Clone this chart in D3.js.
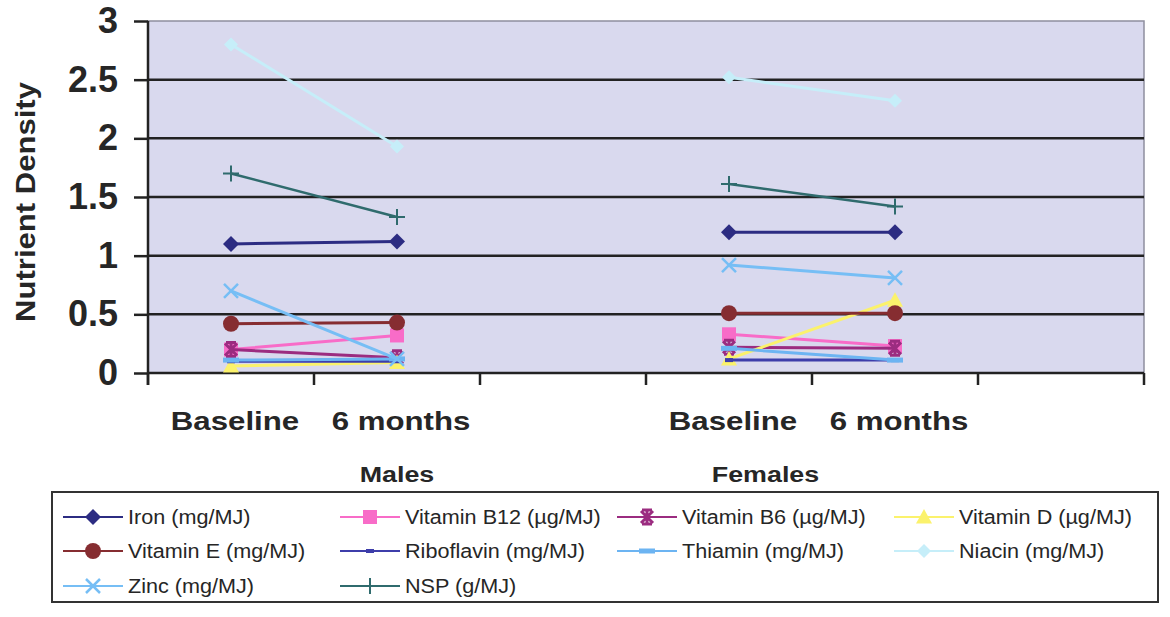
<!DOCTYPE html>
<html>
<head>
<meta charset="utf-8">
<script src="https://cdn.jsdelivr.net/npm/d3@7"></script>
<style>
  body { margin: 0; background: #fff; }
  svg { display: block; }
  text { font-family: Arial, "Liberation Sans", sans-serif; fill: #262626; }
</style>
</head>
<body>
<svg id="chart" width="1170" height="617"></svg>
<script>
// Category slots along the x axis (empty slots separate the two groups)
const categories = ["Baseline", "6 months", "", "Baseline", "6 months", ""];
const groups = ["Males", "Females"];
const yTicks = [0, 0.5, 1, 1.5, 2, 2.5, 3];

// Nutrient density per category slot: Males baseline, Males 6 months, gap, Females baseline, Females 6 months, gap
const iron       = [1.10, 1.12, null, 1.20, 1.20, null];
const vitaminB12 = [0.20, 0.32, null, 0.33, 0.23, null];
const vitaminB6  = [0.20, 0.13, null, 0.22, 0.21, null];
const vitaminD   = [0.06, 0.09, null, 0.12, 0.62, null];
const vitaminE   = [0.42, 0.43, null, 0.51, 0.51, null];
const riboflavin = [0.10, 0.10, null, 0.11, 0.11, null];
const thiamin    = [0.11, 0.12, null, 0.21, 0.11, null];
const niacin     = [2.80, 1.93, null, 2.52, 2.32, null];
const zinc       = [0.70, 0.12, null, 0.92, 0.81, null];
const nsp        = [1.70, 1.33, null, 1.61, 1.42, null];

const seriesNames = [
  "Iron (mg/MJ)", "Vitamin B12 (\u00b5g/MJ)", "Vitamin B6 (\u00b5g/MJ)", "Vitamin D (\u00b5g/MJ)",
  "Vitamin E (mg/MJ)", "Riboflavin (mg/MJ)", "Thiamin (mg/MJ)", "Niacin (mg/MJ)",
  "Zinc (mg/MJ)", "NSP (g/MJ)"
];
const seriesValues = [iron, vitaminB12, vitaminB6, vitaminD, vitaminE, riboflavin, thiamin, niacin, zinc, nsp];

// Line colour and marker shape for each series
const styles = [
  { color: "#2c2c82", marker: "diamond" },
  { color: "#f86cc8", marker: "square" },
  { color: "#9b2c80", marker: "star" },
  { color: "#fbf26c", marker: "triangle" },
  { color: "#862d31", marker: "circle" },
  { color: "#3d3daa", marker: "dashShort" },
  { color: "#6cb4f2", marker: "dashLong" },
  { color: "#c6eef9", marker: "diamondSmall" },
  { color: "#76bef5", marker: "x" },
  { color: "#2f6b6d", marker: "plus" }
];

const series = seriesNames.map((name, i) => ({ name, values: seriesValues[i], ...styles[i] }));

const svg = d3.select("#chart");
const plot = { left: 148, right: 1144, top: 21, bottom: 373 };

const x = d3.scaleBand().domain(d3.range(categories.length)).range([plot.left, plot.right]);
const y = d3.scaleLinear().domain([0, 3]).range([plot.bottom, plot.top]);

// Stretch text horizontally by a factor while keeping it as text
function stretch(sel, factor) {
  sel.each(function () {
    const w = this.getComputedTextLength();
    d3.select(this).attr("textLength", w * factor).attr("lengthAdjust", "spacingAndGlyphs");
  });
}

// Plot area
svg.append("rect")
  .attr("x", plot.left).attr("y", plot.top)
  .attr("width", plot.right - plot.left).attr("height", plot.bottom - plot.top)
  .attr("fill", "#d9d9ee").attr("stroke", "#8e8e9e").attr("stroke-width", 1.5);

// Horizontal gridlines
svg.append("g").selectAll("line")
  .data(yTicks.filter(t => t > 0 && t < 3))
  .join("line")
  .attr("x1", plot.left).attr("x2", plot.right)
  .attr("y1", d => y(d)).attr("y2", d => y(d))
  .attr("stroke", "#222").attr("stroke-width", 2.5);

// Y axis
const yAxis = svg.append("g")
  .attr("transform", `translate(${plot.left},0)`)
  .call(d3.axisLeft(y).tickValues(yTicks).tickSize(14).tickPadding(16).tickFormat(d3.format("~g")));
yAxis.select(".domain").remove();
yAxis.selectAll(".tick line").attr("stroke", "#222").attr("stroke-width", 2.5);
yAxis.selectAll(".tick text")
  .attr("font-size", 36).attr("font-weight", "bold").attr("fill", "#262626")
  .style("font-family", "Arial, 'Liberation Sans', sans-serif");
svg.append("line")
  .attr("x1", plot.left).attr("x2", plot.left)
  .attr("y1", plot.top).attr("y2", plot.bottom + 12)
  .attr("stroke", "#222").attr("stroke-width", 2.5);

// X axis line and slot-boundary ticks
svg.append("line")
  .attr("x1", plot.left).attr("x2", plot.right)
  .attr("y1", plot.bottom).attr("y2", plot.bottom)
  .attr("stroke", "#222").attr("stroke-width", 2.5);
const boundaries = d3.range(categories.length + 1).map(i => plot.left + i * x.step());
svg.append("g").selectAll("line")
  .data(boundaries)
  .join("line")
  .attr("x1", d => d).attr("x2", d => d)
  .attr("y1", plot.bottom).attr("y2", plot.bottom + 12)
  .attr("stroke", "#222").attr("stroke-width", 2.5);

// Category labels
svg.append("g").selectAll("text")
  .data(categories.map((c, i) => ({ c, i })).filter(d => d.c))
  .join("text")
  .attr("x", d => x(d.i) + x.bandwidth() / 2 + 4)
  .attr("y", 430)
  .attr("text-anchor", "middle")
  .attr("font-size", 26).attr("font-weight", "bold")
  .text(d => d.c)
  .call(stretch, 1.2);

// Group labels under the categories
const groupX = [
  (x(0) + x(2) + x.bandwidth()) / 2,
  x(3) + x.bandwidth() * 0.72
];
svg.append("g").selectAll("text")
  .data(groups)
  .join("text")
  .attr("x", (d, i) => groupX[i])
  .attr("y", 482)
  .attr("text-anchor", "middle")
  .attr("font-size", 22).attr("font-weight", "bold")
  .text(d => d)
  .call(stretch, 1.22);

// Y axis title
svg.append("text")
  .attr("transform", `translate(35,202) rotate(-90)`)
  .attr("text-anchor", "middle")
  .attr("font-size", 27).attr("font-weight", "bold")
  .text("Nutrient Density")
  .call(stretch, 1.15);

// Marker drawing
function drawMarker(g, s) {
  const c = s.color;
  switch (s.marker) {
    case "diamond":
      g.append("path").attr("d", "M0,-8L8,0L0,8L-8,0Z").attr("fill", c);
      break;
    case "diamondSmall":
      g.append("path").attr("d", "M0,-7L7,0L0,7L-7,0Z").attr("fill", c);
      break;
    case "square":
      g.append("rect").attr("x", -7).attr("y", -7).attr("width", 14).attr("height", 14).attr("fill", c);
      break;
    case "circle":
      g.append("circle").attr("r", 8).attr("fill", c);
      break;
    case "triangle":
      g.append("path").attr("d", "M0,-8L8,6.5L-8,6.5Z").attr("fill", c);
      break;
    case "star":
      g.append("path").attr("d", "M-6,-6L6,6M-6,6L6,-6M0,-7.5L0,7.5M-5,-7L5,-7M-5,7L5,7")
        .attr("stroke", c).attr("stroke-width", 3).attr("fill", "none");
      break;
    case "x":
      g.append("path").attr("d", "M-7,-7L7,7M-7,7L7,-7")
        .attr("stroke", c).attr("stroke-width", 2.5).attr("fill", "none");
      break;
    case "plus":
      g.append("path").attr("d", "M-8,0L8,0M0,-8L0,8")
        .attr("stroke", c).attr("stroke-width", 2).attr("fill", "none");
      break;
    case "dashShort":
      g.append("rect").attr("x", -4).attr("y", -2).attr("width", 8).attr("height", 4).attr("fill", c);
      break;
    case "dashLong":
      g.append("rect").attr("x", -8).attr("y", -2.5).attr("width", 16).attr("height", 5).attr("fill", c);
      break;
  }
}

// Series lines and markers
const line = d3.line()
  .defined(d => d.v != null)
  .x(d => x(d.i) + x.bandwidth() / 2)
  .y(d => y(d.v));

const seriesG = svg.append("g").selectAll("g").data(series).join("g");
seriesG.each(function (s) {
  const g = d3.select(this);
  const pts = s.values.map((v, i) => ({ v, i }));
  g.append("path")
    .attr("d", line(pts))
    .attr("fill", "none")
    .attr("stroke", s.color)
    .attr("stroke-width", s.marker === "plus" ? 2.5 : 3);
  pts.filter(p => p.v != null).forEach(p => {
    const m = g.append("g").attr("transform", `translate(${x(p.i) + x.bandwidth() / 2},${y(p.v)})`);
    drawMarker(m, s);
  });
});

// Legend
const legendBox = { x: 52, y: 492, w: 1106, h: 110 };
svg.append("rect")
  .attr("x", legendBox.x).attr("y", legendBox.y)
  .attr("width", legendBox.w).attr("height", legendBox.h)
  .attr("fill", "#fff").attr("stroke", "#333").attr("stroke-width", 2);

const colX = [63, 340, 617, 894];
const rowY = [517, 551, 586];
const items = svg.append("g").selectAll("g")
  .data(series)
  .join("g")
  .attr("transform", (d, i) => `translate(${colX[i % 4]},${rowY[Math.floor(i / 4)]})`);
items.append("line")
  .attr("x1", 0).attr("x2", 60)
  .attr("stroke", d => d.color).attr("stroke-width", 2);
items.each(function (s) {
  const m = d3.select(this).append("g").attr("transform", "translate(30,0)");
  drawMarker(m, s);
});
items.append("text")
  .attr("x", 65).attr("y", 0).attr("dy", "0.35em")
  .attr("font-size", 20).attr("fill", "#333")
  .text(d => d.name)
  .call(stretch, 1.08);
</script>
</body>
</html>
